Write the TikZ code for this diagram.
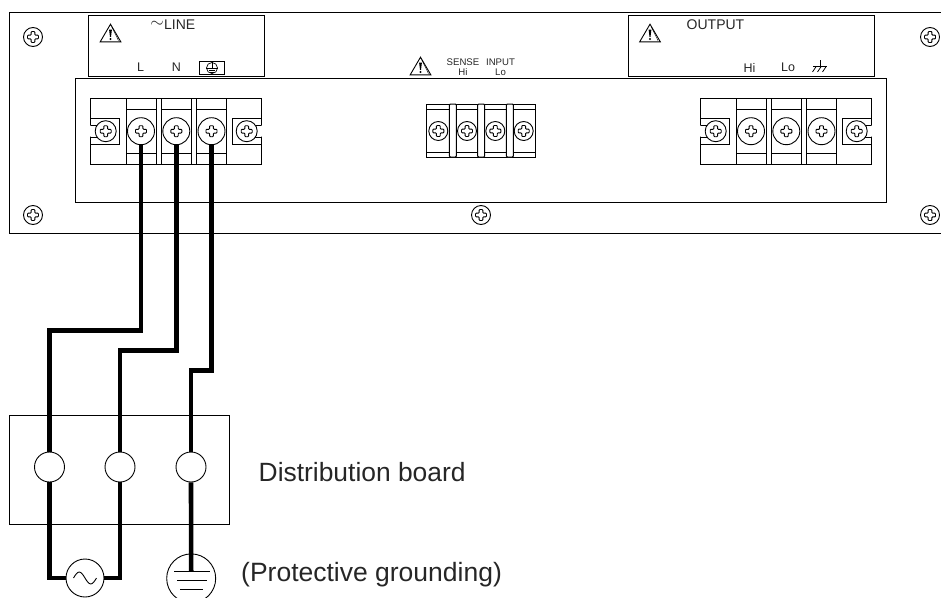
\documentclass[tikz,border=0pt]{standalone}
\usepackage{fontspec}
\setmainfont{Liberation Sans}
\usetikzlibrary{calc}
\tikzset{
	plate/.style={draw, line width=1pt},
	wire/.style={line width=4.6pt, line cap=butt},
	screw/.style={draw, circle, fill=white, inner sep=0pt, minimum size=#1, line width=0.9pt,
		path picture={\draw[rounded corners=0.8pt, line width=0.9pt] (path picture bounding box.center)
			++(-1.9,-5.5) -- ++(3.8,0) -- ++(0,3.6) -- ++(3.6,0) -- ++(0,3.8) -- ++(-3.6,0) -- ++(0,3.6)
			-- ++(-3.8,0) -- ++(0,-3.6) -- ++(-3.6,0) -- ++(0,-3.8) -- ++(3.6,0) -- cycle;}},
	screw/.default=19pt,
	breaker/.style={draw, circle, fill=white, inner sep=0pt, minimum size=30pt, line width=0.9pt},
	label/.style={inner sep=0pt, text=black!85, font=\fontsize{#1}{#1}\selectfont},
	warnsign/.pic={
		\draw[line width=0.9pt, line join=miter] (-10.3,8.8) -- (0,-8.8) -- (10.3,8.8) -- cycle;
		\draw[line width=0.4pt] (1.2,-6.2) -- (8,7.6);
		\fill (-1.4,-3.4) -- (1.4,-3.4) -- (0.5,3.8) -- (-0.5,3.8) -- cycle;
		\fill (0,6) circle (1.2pt);
	}
}

\begin{document}
\begin{tikzpicture}[x=1pt, y=-1pt]
	\clip (0,0) rectangle (941,597);

	% rear panel
	\draw[plate] (945,12) -- (9.5,12) -- (9.5,233.5) -- (945,233.5);
	\draw[plate] (75.5,78.5) rectangle (886.5,202);
	\draw[plate] (88.5,15.5) rectangle (264.5,76);
	\draw[plate] (628.5,15.5) rectangle (874.5,76);

	\node[screw] (fixA) at (33,37) {};
	\node[screw] (fixB) at (33,215) {};
	\node[screw] (fixC) at (481,215) {};
	\node[screw] (fixD) at (930,37) {};
	\node[screw] (fixE) at (930,215) {};

	% labels on the panel
	\pic at (110.5,33) {warnsign};
	\pic at (420.5,66) {warnsign};
	\pic at (650,33) {warnsign};
	\node[label=18] (tildeL) at (157,24.5) {$\sim$};
	\node[label=14, anchor=west] (lineL) at (164,25) {LINE};
	\node[label=12.5] (pinL) at (140.5,67.5) {L};
	\node[label=12.5] (pinN) at (176.5,67.5) {N};
	\node[label=14, anchor=west] (outL) at (686.5,25) {OUTPUT};
	\node[label=12.5] (pinHi) at (749.5,67.5) {Hi};
	\node[label=12.5] (pinLo) at (788,67.5) {Lo};
	\node[label=9.6] (senseL) at (463,62.5) {SENSE};
	\node[label=9.6] (senseH) at (463,72) {Hi};
	\node[label=9.6] (inputL) at (500.5,62.5) {INPUT};
	\node[label=9.6] (inputH) at (500.5,72) {Lo};

	% earth marks
	\draw[line width=0.7pt] (199.7,61.5) rectangle (224.7,74.7);
	\node[draw, circle, inner sep=0pt, minimum size=11pt, line width=0.7pt] (peMark) at (212,68) {};
	\draw[line width=0.7pt] (peMark.west) -- (peMark.east) (peMark.north) -- (peMark.center);
	\draw[line width=0.6pt] (209,70) -- (215,70) (210,72) -- (214,72);
	\draw[line width=0.8pt] (813,66.7) -- (827,66.7) (820,60) -- (820,66.7);
	\draw[line width=0.8pt] (816,66.7) -- (812.5,72) (821,66.7) -- (817.5,72) (826,66.7) -- (822.5,72);

	% large terminal blocks
	\foreach \tb/\xo in {A/0, B/610}{
		\begin{scope}[xshift=\xo]
			\draw[plate] (90.5,98.5) rectangle (261,164);
			\foreach \xa/\xb in {126/156, 161/191, 196/226}{
				\draw[plate] (\xa,98.5) -- (\xa,164) (\xb,98.5) -- (\xb,164);
				\draw[plate] (\xa,109.5) -- (\xb,109.5) (\xa,153) -- (\xb,153);
			}
			\draw[plate] (90.5,118) -- (119.5,118) -- (119.5,144) -- (90.5,144);
			\draw[plate] (261,118) -- (232,118) -- (232,144) -- (261,144);
			\fill[white] (89,125.5) rectangle (97,136.5) (255,125.5) rectangle (262.5,136.5);
			\draw[plate] (90.5,125) -- (97,125) (90.5,137) -- (97,137);
			\draw[plate] (261,125) -- (255,125) (261,137) -- (255,137);
			\node[screw=21pt] (term\tb a) at (105.7,131.2) {};
			\node[screw=27pt] (term\tb b) at (141,131.2) {};
			\node[screw=27pt] (term\tb c) at (176.3,131.2) {};
			\node[screw=27pt] (term\tb d) at (211.5,131.2) {};
			\node[screw=21pt] (term\tb e) at (246.7,131.2) {};
		\end{scope}
	}

	% small terminal block
	\draw[plate] (426.7,104) rectangle (535.7,157);
	\draw[plate] (426.7,109.5) -- (535.7,109.5);
	\draw[plate] (426.7,152.7) -- (535.7,152.7);
	\foreach \xa in {449.3, 477.7, 506.3}{
		\draw[plate, fill=white, rounded corners=1pt] (\xa,104) rectangle ++(7,53);
	}
	\node[screw] (senseA) at (438.3,131) {};
	\node[screw] (senseB) at (467,131) {};
	\node[screw] (senseC) at (495.3,131) {};
	\node[screw] (senseD) at (523.7,131) {};

	% distribution board
	\draw[plate, line width=0.8pt] (9.5,415) rectangle (229.5,524.5);
	\node[label=26.4, anchor=west] (boardL) at (258.5,472.5) {Distribution board};
	\node[label=26.5, anchor=west] (groundL) at (241,575) {(Protective grounding)};

	\node[breaker] (brkL) at (49.5,467) {};
	\node[breaker] (brkN) at (120,467) {};
	\node[breaker] (brkG) at (191,467) {};
	\node[draw, circle, inner sep=0pt, minimum size=38pt, line width=0.9pt] (source) at (85,578) {};
	\node[draw, circle, inner sep=0pt, minimum size=49pt, line width=0.9pt] (earth) at (191.2,578.4) {};
	\coordinate (earthTop) at (191.2,571.7);

	\draw[line width=0.9pt] (source.center) ++(-11.5,0) sin ++(5.75,-6) cos ++(5.75,6) sin ++(5.75,6) cos ++(5.75,-6);
	\draw[line width=0.9pt] (174,571.7) -- (210,571.7) (177,580) -- (207,580) (180,589) -- (203,589);

	% wiring
	\draw[wire] (termAb.south) -- (141,330.5) -| (brkL.north);
	\draw[wire] (termAc.south) -- (176.3,350.5) -| (brkN.north);
	\draw[wire] (termAd.south) -- (211.5,370.5) -| (brkG.north);
	\draw[wire] (brkL.south) |- (source.west);
	\draw[wire] (brkN.south) |- (source.east);
	\draw[wire] (brkG.south) -- (earthTop);
\end{tikzpicture}
\end{document}
